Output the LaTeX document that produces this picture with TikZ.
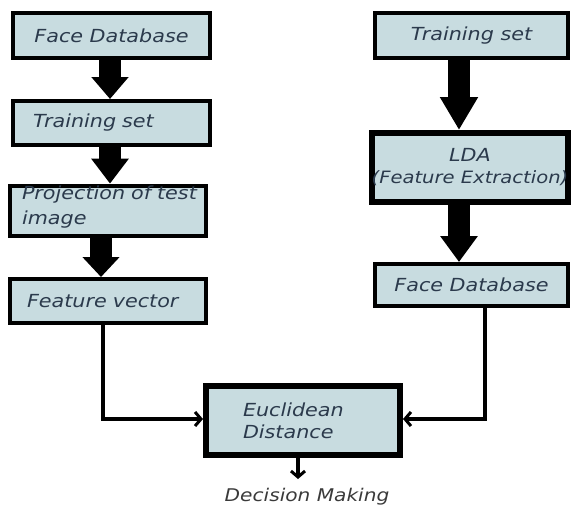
\documentclass[tikz,border=0pt]{standalone}
\usepackage{fontspec}
\setmainfont{DejaVu Sans}[FakeStretch=1.15]
\usetikzlibrary{arrows.meta}
\definecolor{boxfill}{HTML}{C8DCE0}
\definecolor{txt}{HTML}{2B3A4C}
\definecolor{dmtxt}{HTML}{3A3A3A}
\begin{document}
\begin{tikzpicture}[x=1pt,y=-1pt,
  box/.style={draw=black, line width=4pt, fill=boxfill, inner sep=0pt,
    font=\fontsize{18}{25}\selectfont\itshape, text=txt},
  thickbox/.style={box, line width=6pt},
  bigarrow/.style={line width=22pt, -{Triangle[width=36pt,length=#1]}},
  conn/.style={line width=3.8pt, -{Straight Barb[length=6pt,width=14pt,line width=3pt]}}
]
\useasboundingbox (0,0) rectangle (572,511);
% left column
\node[box, minimum width=197pt, minimum height=45pt] (fdl) at (111.5,35.5) {Face Database};
\node[box, minimum width=197pt, minimum height=44pt, text width=157pt, align=left, inner xsep=20pt] (tsl) at (111.5,123) {Training set};
\node[box, minimum width=196pt, minimum height=44pt, text width=172pt, align=left, inner xsep=12pt] (proj) at (108,211) {\mbox{Projection of test}\\image\rule[-12pt]{0pt}{1pt}};
\node[box, minimum width=196pt, minimum height=44pt, text width=162pt, align=left, inner xsep=17pt] (fv) at (108,301) {Feature vector};
% right column
\node[box, minimum width=193pt, minimum height=45pt] (tsr) at (471.5,35.5) {Training set};
\node[thickbox, minimum width=194pt, minimum height=69pt, align=center] (lda) at (470,167.5) {LDA\\[-3pt]{\fontsize{17}{20}\selectfont(Feature Extraction)}};
\node[box, minimum width=193pt, minimum height=42pt] (fdr) at (471.5,285) {Face Database};
% euclidean
\node[thickbox, minimum width=194pt, minimum height=69pt, text width=120pt, align=left, inner xsep=37pt] (eu) at (303,420.5) {Euclidean\\[-3pt]Distance};
\node[font=\fontsize{17.5}{20}\selectfont\itshape, text=dmtxt, inner sep=2pt] (dm) at (307,497) {Decision Making};
\coordinate (dmtop) at (298,479);
% block arrows
\draw[bigarrow=22pt] ([xshift=-1.5pt]fdl.south) -- ([xshift=-1.5pt]fdl.south |- tsl.north);
\draw[bigarrow=25pt] ([xshift=-1.5pt]tsl.south) -- ([xshift=-1.5pt]tsl.south |- proj.north);
\draw[bigarrow=20pt] ([xshift=-7pt]proj.south) -- ([xshift=-7pt]proj.south |- fv.north);
\draw[bigarrow=33pt] ([xshift=-12.5pt]tsr.south) -- ([xshift=-12.5pt]tsr.south |- lda.north);
\draw[bigarrow=26pt] ([xshift=-11pt]lda.south) -- ([xshift=-11pt]lda.south |- fdr.north);
% connectors
\draw[conn] ([xshift=-5pt]fv.south) |- ([yshift=1.5pt]eu.west);
\draw[conn] ([xshift=13.5pt]fdr.south) |- ([yshift=1.5pt]eu.east);
\draw[conn] ([xshift=-5pt]eu.south) -- (dmtop);
\end{tikzpicture}
\end{document}
